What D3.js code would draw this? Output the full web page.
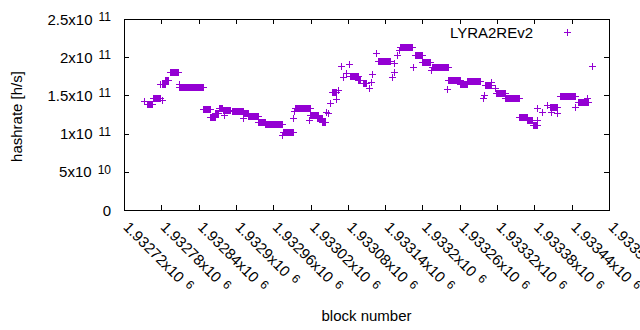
<!DOCTYPE html>
<html>
<head>
<meta charset="utf-8">
<script src="https://cdn.jsdelivr.net/npm/d3@7"></script>
<style>
  body { margin: 0; background: #fff; }
  svg { display: block; font-family: "Liberation Sans", Arial, sans-serif; }
  .tick line, .frame { shape-rendering: crispEdges; }
</style>
</head>
<body>
<svg width="640" height="330"></svg>
<script>
// runs of consecutive blocks sharing one hashrate value (GH/s)
const runStart = [1932752,1932757,1932767,1932778,1932781,1932781,1932786,1932794,1932808,1932809,
  1932847,1932858,1932866,1932873,1932879,1932881,1932894,1932911,1932911,1932919,
  1932935,1932947,1932974,1932976,1932992,1932993,1932995,1933017,1933019,1933030,
  1933038,1933045,1933048,1933051,1933054,1933061,1933064,1933069,1933072,1933077,
  1933082,1933083,1933096,1933104,1933114,1933117,1933119,1933125,1933128,1933151,
  1933154,1933155,1933159,1933162,1933164,1933184,1933188,1933199,1933213,1933215,
  1933239,1933241,1933260,1933271,1933297,1933299,1933300,1933310,1933316,1933319,
  1933332,1933356,1933368,1933377,1933384,1933385,1933392,1933400,1933405,1933406,
  1933417,1933421,1933446,1933450,1933464,1933472];
const runEnd = [1932752,1932765,1932778,1932778,1932781,1932786,1932791,1932807,1932808,1932847,
  1932858,1932866,1932871,1932877,1932890,1932881,1932911,1932919,1932911,1932935,
  1932947,1932974,1932974,1932992,1932992,1932993,1933019,1933017,1933032,1933038,
  1933043,1933045,1933048,1933051,1933061,1933061,1933064,1933069,1933072,1933077,
  1933082,1933096,1933099,1933109,1933114,1933117,1933119,1933125,1933147,1933151,
  1933154,1933155,1933159,1933162,1933183,1933184,1933199,1933212,1933213,1933241,
  1933239,1933260,1933271,1933292,1933297,1933299,1933311,1933310,1933316,1933332,
  1933356,1933368,1933376,1933384,1933384,1933385,1933392,1933400,1933416,1933406,
  1933417,1933445,1933446,1933466,1933464,1933472];
const runRate = [143,139,146,165,144,164.5,170,180.6,165,161.4,
  132.2,121.7,127,133.5,130.9,124.4,129.6,127,120.4,122.4,
  115.6,112.2,98,102.5,120.4,130,133,117.8,124.4,120,
  115.6,128.7,127.4,139.7,154,145,157,188.5,174.5,179,
  190.7,175,170,166.6,159.3,168,178,205,194.6,174.5,
  192.8,181,203,209.4,213,186.8,203,193.3,183.3,186.8,
  158.4,170,164.5,169,146,150.5,163.6,168,159.3,152.8,
  146.2,122,117.8,111.3,117.8,133,128.7,137.4,135.2,128.7,
  127.4,149.2,135.2,141.8,146.2,188.5];

const xTicks = [1932720,1932780,1932840,1932900,1932960,1933020,1933080,
  1933140,1933200,1933260,1933320,1933380,1933440,1933500];
const yTicks = [0, 5e10, 1e11, 1.5e11, 2e11, 2.5e11];
const seriesName = 'LYRA2REv2';

const points = [];
runStart.forEach((s, i) => {
  for (let b = s; b <= runEnd[i]; b++) points.push({ block: b, rate: runRate[i] * 1e9 });
});

const svg = d3.select('svg');
const margin = { top: 19, right: 31, bottom: 120, left: 124 };
const width = +svg.attr('width');
const height = +svg.attr('height');
const innerWidth = width - margin.left - margin.right;
const innerHeight = height - margin.top - margin.bottom;
const color = '#9400d3';

const xScale = d3.scaleLinear().domain([xTicks[0], xTicks[xTicks.length - 1]]).range([0, innerWidth]);
const yScale = d3.scaleLinear().domain([0, 2.5e11]).range([innerHeight, 0]);

const g = svg.append('g').attr('transform', `translate(${margin.left},${margin.top})`);

// split value into mantissa and power of ten
const sci = (m, p) => ({ m, p });
const yParts = v => {
  if (v === 0) return sci('0', null);
  const p = Math.floor(Math.log10(v));
  return sci(String(+(v / Math.pow(10, p)).toFixed(4)), p);
};
const xParts = v => sci(String(+(v / 1e6).toFixed(5)), 6);

const writeLabel = (text, parts) => {
  text.text(null);
  if (parts.p === null) { text.text(parts.m); return; }
  text.append('tspan').text(`${parts.m}x10`);
  text.append('tspan').attr('font-size', 12).attr('dx', 6).attr('dy', -3.5).text(parts.p);
};

const yAxisG = g.append('g')
  .call(d3.axisLeft(yScale).tickValues(yTicks).tickSizeInner(-5).tickSizeOuter(0).tickPadding(13));
yAxisG.select('.domain').remove();
yAxisG.selectAll('.tick text')
  .attr('font-size', 15).attr('fill', '#000').attr('dy', 5)
  .each(function (d) { writeLabel(d3.select(this), yParts(d)); });

g.append('g').attr('transform', `translate(${innerWidth},0)`)
  .call(d3.axisRight(yScale).tickValues(yTicks.slice(1, -1)).tickSizeInner(-5).tickSizeOuter(0).tickFormat(''))
  .select('.domain').remove();

const xAxisG = g.append('g').attr('transform', `translate(0,${innerHeight})`)
  .call(d3.axisBottom(xScale).tickValues(xTicks).tickSizeInner(-5).tickSizeOuter(0));
xAxisG.select('.domain').remove();
xAxisG.selectAll('.tick text')
  .attr('font-size', 15).attr('fill', '#000')
  .attr('x', 0).attr('y', 0).attr('dy', 0)
  .attr('text-anchor', 'start')
  .attr('transform', 'translate(-2,18) rotate(45)')
  .each(function (d) { writeLabel(d3.select(this), xParts(d)); });

g.append('g')
  .call(d3.axisTop(xScale).tickValues(xTicks.slice(1, -1)).tickSizeInner(-5).tickSizeOuter(0).tickFormat(''))
  .select('.domain').remove();

g.append('rect').attr('class', 'frame')
  .attr('x', 0.5).attr('y', 0.5)
  .attr('width', innerWidth).attr('height', innerHeight)
  .attr('fill', 'none').attr('stroke', '#000');

const plus = (x, y) => {
  const cx = Math.round(x) + 0.5, cy = Math.round(y) + 0.5;
  return `M${cx - 3.5},${cy}h7M${cx},${cy - 3.5}v7`;
};

g.append('path')
  .attr('d', points.map(d => plus(xScale(d.block), yScale(d.rate))).join(''))
  .attr('fill', 'none').attr('stroke', color).attr('stroke-width', 1)
  .attr('shape-rendering', 'crispEdges');

// legend
g.append('text')
  .attr('x', 533 - margin.left).attr('y', 37.5 - margin.top)
  .attr('text-anchor', 'end').attr('font-size', 15)
  .text(seriesName);
g.append('path')
  .attr('d', plus(567 - margin.left, 32 - margin.top))
  .attr('fill', 'none').attr('stroke', color).attr('shape-rendering', 'crispEdges');

// axis titles
svg.append('text')
  .attr('transform', `translate(22,${margin.top + innerHeight / 2 + 2}) rotate(-90)`)
  .attr('text-anchor', 'middle').attr('font-size', 15)
  .text('hashrate [h/s]');
svg.append('text')
  .attr('x', margin.left + innerWidth / 2).attr('y', 321)
  .attr('text-anchor', 'middle').attr('font-size', 15)
  .text('block number');
</script>
</body>
</html>
